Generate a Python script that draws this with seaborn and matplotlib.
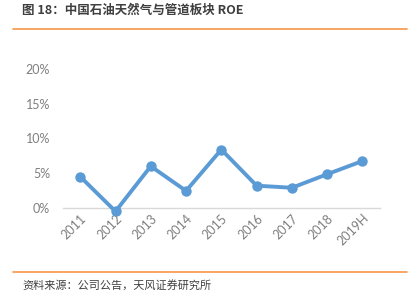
import matplotlib
matplotlib.use("Agg")
import matplotlib.pyplot as plt
import seaborn as sns
import pandas as pd
from matplotlib.lines import Line2D
from matplotlib.ticker import PercentFormatter

years = ["2011", "2012", "2013", "2014", "2015", "2016", "2017", "2018", "2019H"]
roe = [0.045, -0.005, 0.060, 0.0245, 0.084, 0.032, 0.029, 0.0485, 0.0675]
yticks = [0.0, 0.05, 0.10, 0.15, 0.20]

title = "图 18：中国石油天然气与管道板块 ROE"
source = "资料来源：公司公告，天风证券研究所"

sns.set_theme(style="white")
plt.rcParams['font.family'] = ['Noto Sans CJK SC', 'DejaVu Sans']

df = pd.DataFrame({"year": years, "roe": roe})

fig = plt.figure(figsize=(4.2, 3.0), dpi=100)
ax = fig.add_axes([0.149, 0.307, 0.756, 0.463])
sns.lineplot(data=df, x="year", y="roe", ax=ax, sort=False, color="#5B9BD5",
             linewidth=2.8, marker="o", markersize=7.5, markeredgewidth=0,
             clip_on=False)
for l in ax.lines:
    l.set_clip_on(False)
ax.set_xlim(-0.5, len(years) - 0.5)
ax.set_ylim(0, 0.2)
ax.set_yticks(yticks)
ax.yaxis.set_major_formatter(PercentFormatter(1.0, decimals=0))
ax.set_xlabel("")
ax.set_ylabel("")
for s in ["top", "right", "left"]:
    ax.spines[s].set_visible(False)
ax.spines["bottom"].set_color("#D9D9D9")
ax.spines["bottom"].set_linewidth(1.0)
ax.spines["bottom"].set_zorder(0)
ax.tick_params(axis="both", length=0, colors="#7F7F7F", labelsize=9)
ax.tick_params(axis="y", pad=9)
ax.tick_params(axis="x", pad=3)
for lab in ax.get_xticklabels() + ax.get_yticklabels():
    lab.set_fontfamily(["Lato", "DejaVu Sans"])
plt.setp(ax.get_xticklabels(), rotation=45, ha="right", rotation_mode="anchor")

fig.text(22/420, 1 - 10/300, title, fontsize=9, fontweight="bold", color="#3F3F3F",
         va="center", ha="left")
fig.add_artist(Line2D([13/420, 407/420], [1 - 29/300, 1 - 29/300], color="#F79646", linewidth=1.2))
fig.add_artist(Line2D([13/420, 407/420], [1 - 272/300, 1 - 272/300], color="#F79646", linewidth=1.2))
fig.text(22/420, 1 - 285/300, source, fontsize=8, color="#404040", va="center", ha="left")

fig.savefig("out.png", dpi=100)
